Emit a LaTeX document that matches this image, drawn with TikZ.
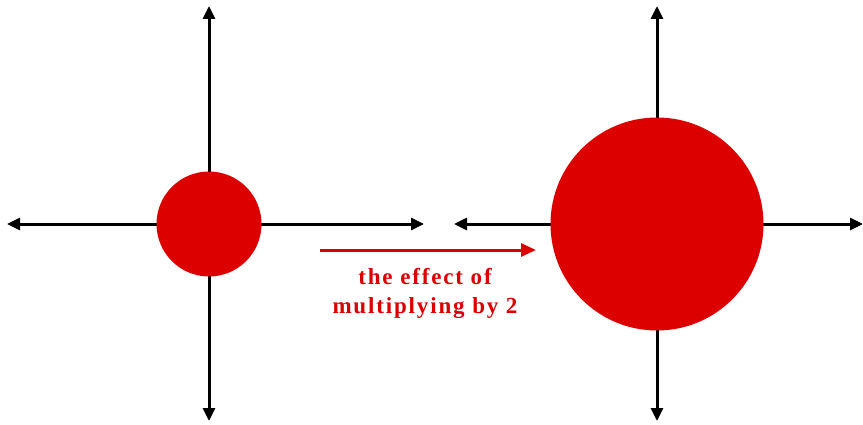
\documentclass[tikz,border=0pt]{standalone}
\usepackage{fontspec}
\setmainfont{Liberation Serif}
\usepackage{tikz}
\usetikzlibrary{arrows.meta}
\definecolor{effectred}{HTML}{DD0000}

\begin{document}
\begin{tikzpicture}[
    x=1pt, y=1pt,
    axis/.style={{Triangle[length=13pt, width=12pt]}-{Triangle[length=13pt, width=12pt]}, line width=3pt},
    disc/.style={circle, fill=effectred, inner sep=0pt},
    effect/.style={-{Triangle[length=15pt, width=13pt]}, line width=3pt, effectred},
    label/.style={text=effectred, font=\fontsize{23}{29}\selectfont\bfseries\addfontfeature{LetterSpace=8}, align=center}
]
    \useasboundingbox (0,0) rectangle (863,424);
    % left axes
    \coordinate (lw) at (7,200);
    \coordinate (le) at (424,200);
    \coordinate (ln) at (209,418);
    \coordinate (ls) at (209,3);
    \draw[axis] (lw) -- (le);
    \draw[axis] (ls) -- (ln);
    \node[disc, minimum size=105pt] (small) at (209,200) {};
    % right axes
    \coordinate (rw) at (454,200);
    \coordinate (re) at (863,200);
    \coordinate (rn) at (657,418);
    \coordinate (rs) at (657,3);
    \draw[axis] (rw) -- (re);
    \draw[axis] (rs) -- (rn);
    \node[disc, minimum size=213pt] (big) at (657,200) {};
    % multiply by 2
    \coordinate (from) at (320,174);
    \coordinate (to) at (536,174);
    \draw[effect] (from) -- (to);
    \node[label] (text) at (425,131) {the effect of\\multiplying by 2};
\end{tikzpicture}
\end{document}
